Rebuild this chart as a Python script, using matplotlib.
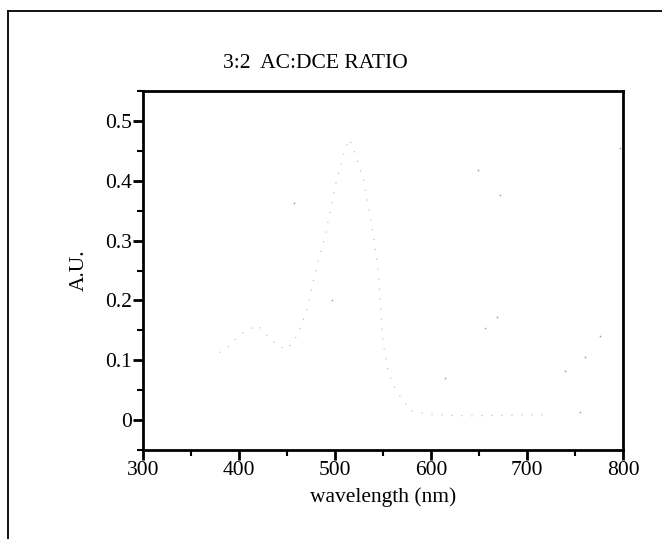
import matplotlib
matplotlib.use('Agg')
import matplotlib.pyplot as plt
from matplotlib.lines import Line2D
from matplotlib.ticker import MultipleLocator

# ── Data ─────────────────────────────────────────────
wavelength = [380, 390, 400, 410, 420, 430, 440, 450, 460, 470, 480, 490,
              500, 510, 515, 520, 530, 540, 545, 550, 555, 560, 570, 580,
              600, 620, 640, 660, 680, 700, 720]
absorbance = [0.113, 0.124, 0.142, 0.152, 0.158, 0.140, 0.125, 0.118, 0.140,
              0.180, 0.250, 0.310, 0.390, 0.450, 0.470, 0.450, 0.400, 0.310,
              0.250, 0.130, 0.085, 0.060, 0.035, 0.015, 0.010, 0.008, 0.007,
              0.008, 0.008, 0.009, 0.009]

# stray specks left in the scan
speck_x = [457, 497, 615, 649, 656, 669, 672, 740, 755, 760, 776, 797]
speck_y = [0.363, 0.200, 0.070, 0.418, 0.154, 0.172, 0.377, 0.082, 0.013,
           0.106, 0.140, 0.455]

TITLE = '3:2  AC:DCE RATIO'
FS = 15.5

plt.rcParams['font.family'] = ['Liberation Serif', 'DejaVu Serif']

fig = plt.figure(figsize=(6.62, 5.39), dpi=100)
ax = fig.add_axes([0.216, 0.165, 0.725, 0.666])

ax.plot(wavelength, absorbance, color='#b5b5b5', linewidth=0.8,
        linestyle=(0, (1, 8)))
ax.scatter(speck_x, speck_y, s=1.5, color='#a0a0a0', linewidths=0)

ax.set_xlim(300, 800)
ax.set_ylim(-0.05, 0.55)
ax.xaxis.set_major_locator(MultipleLocator(100))
ax.xaxis.set_minor_locator(MultipleLocator(50))
ax.yaxis.set_minor_locator(MultipleLocator(0.05))
ax.set_yticks([0, 0.1, 0.2, 0.3, 0.4, 0.5])
ax.set_yticklabels(['0', '0.1', '0.2', '0.3', '0.4', '0.5'])

for s in ax.spines.values():
    s.set_linewidth(2.0)
ax.tick_params(which='major', direction='out', length=7, width=2.0,
               labelsize=FS, pad=1)
ax.tick_params(which='minor', direction='out', length=4, width=1.5)

ax.set_xlabel('wavelength (nm)', fontsize=FS, labelpad=5)
ax.set_ylabel('A.U.', fontsize=FS, labelpad=12)

# title sits left of the axes centre in the scan
fig.text(315 / 662, 1 - 63 / 539, TITLE, fontsize=FS, ha='center', va='center')

# outer frame of the scanned figure (left and top edges only)
fig.add_artist(Line2D([0.012, 0.012], [0.0, 0.98], transform=fig.transFigure,
                      color='black', linewidth=1.3))
fig.add_artist(Line2D([0.012, 1.0], [0.98, 0.98], transform=fig.transFigure,
                      color='black', linewidth=1.3))

plt.savefig('out.png', dpi=100)
